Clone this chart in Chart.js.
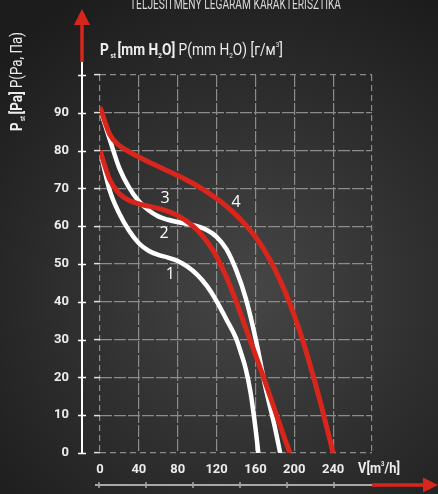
<!DOCTYPE html>
<html>
<head>
<meta charset="utf-8">
<script src="https://cdn.jsdelivr.net/npm/chart.js@4.4.1/dist/chart.umd.min.js"></script>
<style>
    html, body { margin: 0; padding: 0; }
    body {
        width: 438px; height: 494px; overflow: hidden;
        background: radial-gradient(circle at 250px 290px, #464646 0px, #303030 170px, #1c1c1c 340px);
    }
    #wrap { position: relative; width: 438px; height: 494px; }
    canvas { display: block; }
</style>
</head>
<body>
<div id="wrap"><canvas id="chart" width="438" height="494"></canvas></div>
<script>
// eje X: caudal V [m3/h], eje Y: presion [Pa]
const flowTicks = [0, 40, 80, 120, 160, 200, 240];
const pressureTicks = [0, 10, 20, 30, 40, 50, 60, 70, 80, 90];

// curva 1 (blanca, inferior)
const flow1 = [0, 10, 20, 30, 40, 50, 60, 70, 80, 90, 100, 110, 120, 130, 140, 145, 150, 155, 160, 163];
const press1 = [80, 69.5, 63.3, 58.8, 55.5, 53.5, 52.4, 51.7, 50.8, 49.3, 47.2, 44.2, 40.2, 35.4, 30.4, 26.6, 22.3, 16, 6.7, 0];

// curva 2 (blanca, superior)
const flow2 = [0, 10, 20, 30, 40, 50, 60, 70, 80, 90, 100, 110, 120, 130, 140, 150, 160, 170, 180, 185.5];
const press2 = [91, 83, 75.3, 70.2, 66.6, 64.2, 62.6, 61.7, 61.1, 60.6, 60, 59, 57.2, 54, 48.5, 41, 30.5, 17.8, 6.8, 0];

// curva 3 (roja, inferior)
const flow3 = [0, 10, 20, 30, 40, 50, 60, 70, 80, 90, 100, 110, 120, 130, 140, 150, 160, 170, 180, 190, 195.5];
const press3 = [80, 72.3, 68.6, 66.8, 65.9, 65.3, 64.7, 63.9, 62.8, 61.2, 59, 56, 52, 46.6, 40.2, 33.1, 26, 18.8, 11.3, 3.9, 0];

// curva 4 (roja, superior)
const flow4 = [0, 10, 20, 30, 40, 50, 60, 70, 80, 90, 100, 110, 120, 130, 140, 150, 160, 170, 180, 190, 200, 210, 220, 230, 240];
const press4 = [91.5, 84.3, 81.3, 79.7, 78.3, 77, 75.8, 74.6, 73.4, 72.1, 70.7, 69.1, 67.3, 65.3, 63, 60.3, 57.2, 53.3, 48.6, 43, 36.4, 28.7, 19.9, 10.3, 0];

const curveNames = ['1', '2', '3', '4'];

const RED = '#d9261c';
const WHITE = '#ffffff';
const TEXT = '#ececec';
const SANS = 'Roboto, "Open Sans", sans-serif';

const toPoints = (xs, ys) => xs.map((v, i) => ({ x: v, y: ys[i] }));

// texto con trozos de distinta fuente, comprimido a un ancho dado
function richText(ctx, parts, x, y, width) {
    ctx.save();
    let natural = 0;
    parts.forEach(p => { ctx.font = p.font; natural += ctx.measureText(p.t).width; });
    ctx.translate(x, y);
    ctx.scale(width / natural, 1);
    let cx = 0;
    parts.forEach(p => {
        ctx.font = p.font;
        ctx.fillText(p.t, cx, p.dy || 0);
        cx += ctx.measureText(p.t).width;
    });
    ctx.restore();
}

function arrowHead(ctx, tipX, tipY, baseX, baseY, half) {
    const dx = tipX - baseX, dy = tipY - baseY;
    const len = Math.hypot(dx, dy);
    const nx = -dy / len * half, ny = dx / len * half;
    ctx.beginPath();
    ctx.moveTo(tipX, tipY);
    ctx.lineTo(baseX + nx, baseY + ny);
    ctx.lineTo(baseX - nx, baseY - ny);
    ctx.closePath();
    ctx.fill();
}

const decorPlugin = {
    id: 'decor',
    afterDraw(chart) {
        const { ctx, chartArea: a, scales: { x, y } } = chart;
        ctx.save();

        // titulo superior (cortado)
        ctx.fillStyle = '#d8d8d8';
        ctx.textBaseline = 'alphabetic';
        richText(ctx, [{ t: 'TELJESÍTMÉNY LEGÁRAM KARAKTERISZTIKA', font: '14px ' + SANS }], 130, 8.5, 211);

        // unidades
        ctx.fillStyle = TEXT;
        const big = 'bold 17px ' + SANS, reg = '17px ' + SANS, small = 'bold 8px ' + SANS, smallR = '8px ' + SANS;
        richText(ctx, [
            { t: 'P', font: big }, { t: ' st ', font: small, dy: 3 },
            { t: '[mm H', font: big }, { t: '2', font: small, dy: 3 }, { t: 'O]', font: big },
            { t: ' P(mm H', font: reg }, { t: '2', font: smallR, dy: 3 }, { t: 'O) [г/м', font: reg },
            { t: '3', font: smallR, dy: -8 }, { t: ']', font: reg }
        ], a.left, 55, 183);

        // titulo eje Y girado
        ctx.save();
        ctx.translate(22, 131);
        ctx.rotate(-Math.PI / 2);
        richText(ctx, [
            { t: 'P', font: 'bold 16px ' + SANS }, { t: ' st ', font: 'bold 7px ' + SANS, dy: 3 },
            { t: '[Pa]', font: 'bold 16px ' + SANS }, { t: ' P(Pa, Па)', font: '16px ' + SANS }
        ], 0, 0, 99);
        ctx.restore();

        // eje Y blanco con marcas y flecha roja
        const axisX = a.left - 18;
        ctx.strokeStyle = WHITE;
        ctx.lineWidth = 2;
        ctx.beginPath();
        ctx.moveTo(axisX, a.bottom);
        ctx.lineTo(axisX, a.top - 13);
        ctx.stroke();
        ctx.lineWidth = 1.5;
        [...pressureTicks, 100].forEach(v => {
            const py = Math.round(y.getPixelForValue(v)) + 0.5;
            ctx.beginPath();
            ctx.moveTo(axisX - 4, py);
            ctx.lineTo(axisX + 4, py);
            ctx.stroke();
        });
        ctx.strokeStyle = RED;
        ctx.fillStyle = RED;
        ctx.lineWidth = 3.5;
        ctx.beginPath();
        ctx.moveTo(axisX, a.top - 13);
        ctx.lineTo(axisX, 24);
        ctx.stroke();
        arrowHead(ctx, axisX, 9, axisX, 25, 8);

        // eje X decorativo con flecha roja
        const lineY = a.bottom + 32;
        ctx.strokeStyle = '#a8a8a8';
        ctx.lineWidth = 2;
        ctx.beginPath();
        ctx.moveTo(a.left - 5, lineY);
        ctx.lineTo(a.right, lineY);
        ctx.stroke();
        ctx.lineWidth = 1.5;
        for (let i = 0; i < 6; i++) {
            const px = a.left - 1 + i * 47;
            ctx.beginPath();
            ctx.moveTo(px, lineY - 3);
            ctx.lineTo(px, lineY + 3);
            ctx.stroke();
        }
        ctx.strokeStyle = RED;
        ctx.lineWidth = 3.5;
        ctx.beginPath();
        ctx.moveTo(a.right, lineY);
        ctx.lineTo(425, lineY);
        ctx.stroke();
        arrowHead(ctx, 438, lineY, 423, lineY, 7.5);

        // etiqueta V[m3/h]
        ctx.fillStyle = TEXT;
        ctx.textBaseline = 'middle';
        richText(ctx, [
            { t: 'V[m', font: 'bold 15px ' + SANS }, { t: '3', font: 'bold 7px ' + SANS, dy: -5 },
            { t: '/h]', font: 'bold 15px ' + SANS }
        ], a.right - 14, 469, 42);

        // numeros de las curvas
        const spots = [[72.5, 47.3], [66, 58.2], [67, 67.4], [140, 66.2]];
        ctx.fillStyle = WHITE;
        ctx.font = '16px "Open Sans", sans-serif';
        ctx.textAlign = 'center';
        curveNames.forEach((n, i) => {
            ctx.fillText(n, x.getPixelForValue(spots[i][0]), y.getPixelForValue(spots[i][1]));
        });

        ctx.restore();
    }
};

const gridDash = (ctx) => {
    const v = ctx.tick ? ctx.tick.value : null;
    const max = ctx.scale.max;
    return (v === 0 || v === max) ? [6, 4] : [12, 2];
};

const ctxC = document.getElementById('chart').getContext('2d');
new Chart(ctxC, {
    type: 'line',
    data: {
        datasets: [
            { label: curveNames[0], data: toPoints(flow1, press1), borderColor: WHITE, borderWidth: 4.5, order: 2 },
            { label: curveNames[1], data: toPoints(flow2, press2), borderColor: WHITE, borderWidth: 4.5, order: 2 },
            { label: curveNames[2], data: toPoints(flow3, press3), borderColor: RED, borderWidth: 5, order: 1 },
            { label: curveNames[3], data: toPoints(flow4, press4), borderColor: RED, borderWidth: 5, order: 1 }
        ]
    },
    options: {
        responsive: false,
        animation: false,
        devicePixelRatio: 1,
        layout: { padding: { top: 75, right: 66, left: 0, bottom: 0 } },
        elements: {
            point: { radius: 0 },
            line: { cubicInterpolationMode: 'monotone', fill: false, capBezierPoints: true }
        },
        plugins: { legend: { display: false }, tooltip: { enabled: false } },
        scales: {
            x: {
                type: 'linear', min: 0, max: 280,
                afterBuildTicks: s => { s.ticks = [...flowTicks, 280].map(v => ({ value: v })); },
                afterFit: s => { s.height = 41; },
                grid: { color: '#8c8c8c', lineWidth: 1.2, drawTicks: false },
                border: { display: false, dash: gridDash },
                ticks: {
                    padding: 9, color: TEXT, maxRotation: 0, autoSkip: false,
                    font: { family: SANS, size: 13, weight: 'bold' },
                    callback: v => flowTicks.includes(v) ? String(v) : ''
                }
            },
            y: {
                type: 'linear', min: 0, max: 100,
                afterBuildTicks: s => { s.ticks = [...pressureTicks, 100].map(v => ({ value: v })); },
                afterFit: s => { s.width = 100; },
                grid: { color: '#8c8c8c', lineWidth: 1.2, tickLength: 6, tickColor: '#e0e0e0', tickWidth: 1.5 },
                border: { display: false, dash: gridDash },
                ticks: {
                    padding: 25, color: TEXT, autoSkip: false,
                    font: { family: SANS, size: 13, weight: 'bold' },
                    callback: v => pressureTicks.includes(v) ? String(v) : ''
                }
            }
        }
    },
    plugins: [decorPlugin]
});
</script>
</body>
</html>
